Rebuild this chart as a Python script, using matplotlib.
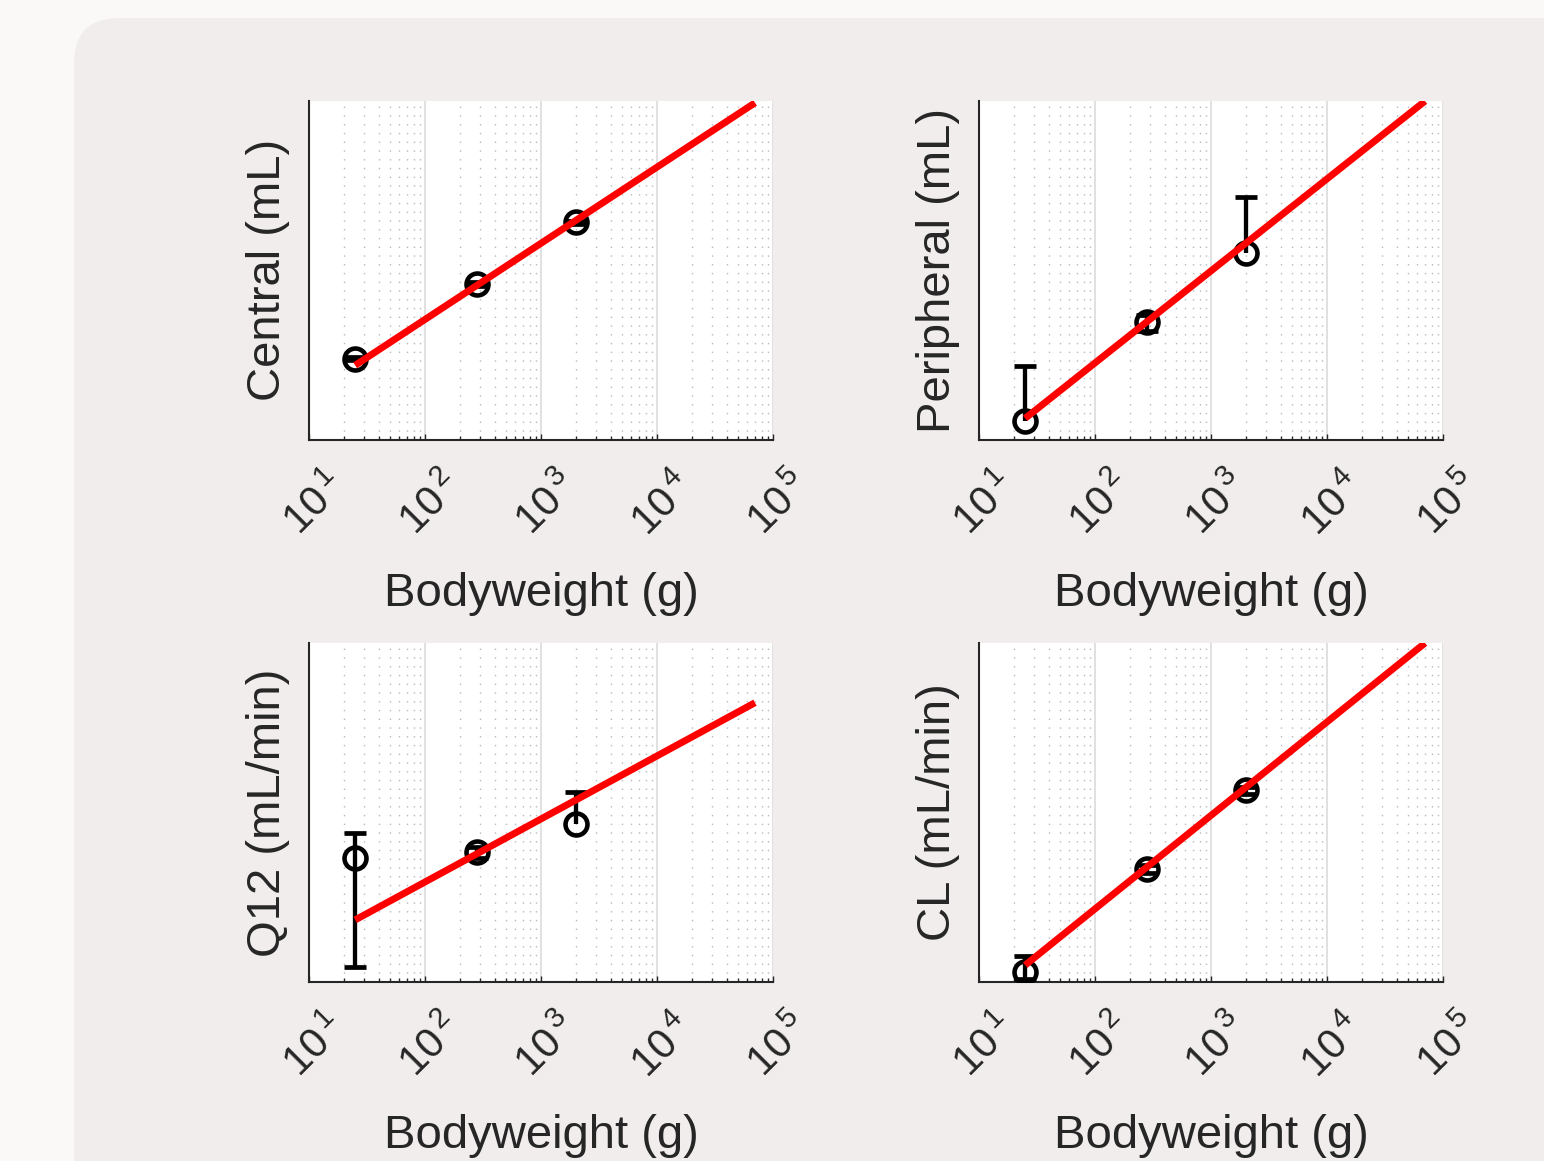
import numpy as np
import matplotlib
matplotlib.use("Agg")
import matplotlib.pyplot as plt
from matplotlib.patches import FancyBboxPatch
from matplotlib.transforms import ScaledTranslation
from matplotlib.ticker import LogLocator, NullFormatter, NullLocator, FuncFormatter

plt.rcParams['font.family'] = ['Liberation Sans', 'DejaVu Sans']
plt.rcParams['mathtext.default'] = 'regular'

# ---------------- data ----------------
bodyweight = [25, 280, 2000]          # g (mouse, rat, rabbit)
fit_bodyweight = [25, 70000]          # g, range of the allometric fit line

central = [9.07, 68.8, 367.0]
central_err_up = [0.4, 3.0, 12.0]
central_err_dn = [0.4, 3.0, 12.0]
central_fit = [7.59, 9400.0]

peripheral = [1.69, 24.3, 160.7]
peripheral_err_up = [5.81, 5.0, 573.0]
peripheral_err_dn = [np.nan, 5.0, np.nan]
peripheral_fit = [1.80, 9840.0]

q12 = [2.93, 3.39, 7.26]
q12_err_up = [2.78, 0.5, 10.3]
q12_err_dn = [2.78, 0.5, np.nan]
q12_fit = [0.54, 197.6]

cl = [0.1234, 1.006, 5.00]
cl_err_up = [0.0466, 0.08, 0.35]
cl_err_dn = [0.0171, 0.08, 0.35]
cl_fit = [0.141, 100.0]

ylabels = ["Central (mL)", "Peripheral (mL)", "Q12 (mL/min)", "CL (mL/min)"]
xlabel = "Bodyweight (g)"
xlim = (10, 1e5)
ylims = [(1, 1e4), (1, 1e4), (0.1, 1e3), (0.1, 1e2)]

panels = [
    (central, central_err_up, central_err_dn, central_fit),
    (peripheral, peripheral_err_up, peripheral_err_dn, peripheral_fit),
    (q12, q12_err_up, q12_err_dn, q12_fit),
    (cl, cl_err_up, cl_err_dn, cl_fit),
]

# ---------------- figure ----------------
W, H = 1544, 1161
fig = plt.figure(figsize=(W / 100, H / 100), dpi=100, facecolor='#fbf8f8')
bg = FancyBboxPatch((74, -100), W + 100, (H - 18) + 100,
                    boxstyle='round,pad=0,rounding_size=45',
                    transform=None, facecolor='#f0edec', edgecolor='none', zorder=0)
fig.add_artist(bg)


def pos(l, r, t, b):
    return [l / W, 1 - b / H, (r - l) / W, (b - t) / H]


boxes = [pos(309, 773, 100.5, 440), pos(979, 1443, 100.5, 440),
         pos(309, 773, 643, 982), pos(979, 1443, 643, 982)]


def decade_label(v, _pos):
    e = int(round(np.log10(v)))
    return r'$\mathdefault{10}^{\,\mathdefault{%d}}$' % e


dark = '#262626'
axes = []
for i, (vals, eup, edn, fit) in enumerate(panels):
    ax = fig.add_axes(boxes[i])
    axes.append(ax)
    ax.set_facecolor('white')
    ax.set_xscale('log')
    ax.set_yscale('log')
    ax.set_xlim(*xlim)
    ax.set_ylim(*ylims[i])

    for x, y, up, dn in zip(bodyweight, vals, eup, edn):
        has_dn = not np.isnan(dn)
        yerr = [[dn if has_dn else 0.0], [up]]
        cont = ax.errorbar([x], [y], yerr=yerr, fmt='none', ecolor='black',
                           elinewidth=3.1, capsize=7.9, capthick=3.4, zorder=3)
        caps = cont.lines[1]
        if not has_dn and len(caps) >= 2:
            caps[0].set_visible(False)
    ax.plot(bodyweight, vals, linestyle='none', marker='o', markersize=15.8,
            markerfacecolor='none', markeredgecolor='black', markeredgewidth=3.3,
            zorder=3)
    ax.plot(fit_bodyweight, fit, color='#ff0000', lw=5.0, zorder=4,
            solid_capstyle='butt')

    # axes styling
    for s in ['top', 'right']:
        ax.spines[s].set_visible(False)
    for s in ['left', 'bottom']:
        ax.spines[s].set_color(dark)
        ax.spines[s].set_linewidth(1.5)
    ax.yaxis.set_major_locator(NullLocator())
    ax.yaxis.set_minor_locator(NullLocator())
    ax.tick_params(axis='y', left=False, labelleft=False)
    ax.xaxis.set_major_locator(LogLocator(base=10, numticks=10))
    ax.xaxis.set_major_formatter(FuncFormatter(decade_label))
    ax.xaxis.set_minor_locator(LogLocator(base=10, subs=np.arange(2, 10), numticks=20))
    ax.xaxis.set_minor_formatter(NullFormatter())
    ax.tick_params(axis='x', which='major', direction='in', length=4.5, width=1.0,
                   color=dark, labelcolor=dark, labelsize=30, labelrotation=45, pad=19)
    ax.tick_params(axis='x', which='minor', direction='in', length=3.0, width=1.0,
                   color=dark)
    ax.grid(True, which='major', axis='x', color='#dcdcdc', lw=1.2, ls='-', zorder=0)
    ax.grid(True, which='minor', axis='x', color='#b8b8b8', lw=1.0, ls=(0, (1, 5.3)), zorder=0)
    ax.set_axisbelow(True)

    ax.set_xlabel(xlabel, fontsize=34, color=dark)
    ax.xaxis.set_label_coords(0.5, -0.39)
    ax.xaxis.label.set_va('top')
    ax.set_ylabel(ylabels[i], fontsize=34, color=dark)
    ax.yaxis.set_label_coords(-0.04, 0.5)

# nudge rotated tick labels slightly right, as in the reference
fig.canvas.draw()
shift = ScaledTranslation(7 / 100, 0, fig.dpi_scale_trans)
for ax in axes:
    for lbl in ax.get_xticklabels():
        lbl.set_transform(lbl.get_transform() + shift)

fig.savefig('out.png', dpi=100, facecolor=fig.get_facecolor())
